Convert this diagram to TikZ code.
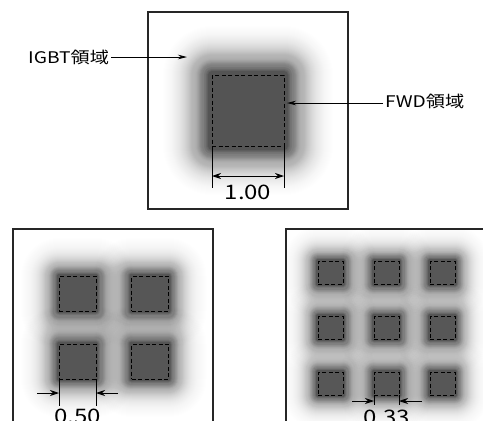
\documentclass[tikz,border=0pt]{standalone}
\usepackage{fontspec}
\newfontfamily\jpfont[FakeStretch=1.2]{Noto Sans CJK JP}
\usetikzlibrary{arrows.meta,calc}
% soft glow round one square: centre x, centre y, half width, half height,
% core margin, decay length, glow length
\newcommand\glowsq[7]{%
  \pgfmathtruncatemacro\glowLm{#7-1}%
  \foreach \k in {0,...,\glowLm}{%
    \pgfmathsetmacro\glowop{1-(1-0.67*exp(-\k/#6)*(1-(\k/#7)*(\k/#7)))/(1-0.67*exp(-(\k+1)/#6)*(1-((\k+1)/#7)*((\k+1)/#7)))}%
    \pgfmathsetmacro\glowr{#5+\k}%
    \fill[black,fill opacity=\glowop,rounded corners=\glowr pt]
      (#1-#3-\glowr,#2-#4-\glowr) rectangle (#1+#3+\glowr,#2+#4+\glowr);
  }%
}
\begin{document}
\begin{tikzpicture}[x=1pt,y=-1pt,
  frame/.style={draw=black!85,line width=1.1pt},
  sqbox/.style={draw=black,dash pattern=on 4pt off 2.5pt,line width=1pt,inner sep=0pt,outer sep=0pt},
  dimline/.style={draw=black,line width=0.9pt},
  dimtip/.style={-{Stealth[length=9pt,width=6pt]}},
  leader/.style={draw=black,line width=0.8pt,-{Stealth[length=9pt,width=4.5pt]}},
  lbl/.style={font=\jpfont\fontsize{16}{18}\selectfont,inner sep=2pt},
  dimtext/.style={font=\jpfont\fontsize{20}{22}\selectfont,inner sep=0pt}
]
\clip (0,0) rectangle (483,421);

% ---------- top panel ----------
\glowsq{248}{110.5}{36}{35.5}{4}{20}{46}
\draw[frame] (148,12) rectangle (348,209);
\node[sqbox,minimum width=72pt,minimum height=71pt] (A) at (248,110.5) {};

% dimension 1.00
\draw[dimline] (A.south west) -- ++(0,42) coordinate (A1);
\draw[dimline] (A.south east) -- ++(0,42) coordinate (A2);
\draw[dimline,{Stealth[length=9pt,width=6pt]}-{Stealth[length=9pt,width=6pt]}]
  ($(A.south west)+(0,30)$) coordinate (A3) -- ($(A.south east)+(0,30)$) coordinate (A4);
\node[dimtext] (d1) at (248,192.5) {1.00};

% labels
\node[lbl,anchor=west] (igbt) at (26,57) {IGBT領域};
\coordinate (igbtTip) at (187,57);
\draw[leader] (igbt.east |- igbtTip) -- (igbtTip);
\node[lbl,anchor=west] (fwd) at (383,101) {FWD領域};
\coordinate (fwdTip) at (287,103);
\draw[leader] (fwd.west |- fwdTip) -- (fwdTip);

% ---------- bottom-left panel ----------
\begin{scope}
\clip (13,229) rectangle (213,440);
\foreach \cx/\cy in {77.5/293.5,150/293.5,77.5/361.5,150/361.5}{
  \glowsq{\cx}{\cy}{18.5}{17.5}{2}{12}{44}
}
\end{scope}
\draw[frame] (13,229) rectangle (213,440);
\node[sqbox,minimum width=37pt,minimum height=35pt] (B1) at (77.5,293.5) {};
\node[sqbox,minimum width=37pt,minimum height=35pt] (B2) at (150,293.5) {};
\node[sqbox,minimum width=37pt,minimum height=35pt] (B3) at (77.5,361.5) {};
\node[sqbox,minimum width=37pt,minimum height=35pt] (B4) at (150,361.5) {};
\draw[dimline] (B3.south west) -- ++(0,27) coordinate (B5);
\draw[dimline] (B3.south east) -- ++(0,27) coordinate (B6);
\draw[dimline,dimtip] ($(B3.south west)+(-22,14)$) coordinate (B7) -- ($(B3.south west)+(0,14)$) coordinate (B8);
\draw[dimline,dimtip] ($(B3.south east)+(22,14)$) coordinate (B9) -- ($(B3.south east)+(0,14)$) coordinate (B10);
\node[dimtext] (d2) at (77.5,416.5) {0.50};

% ---------- bottom-right panel ----------
\begin{scope}
\clip (286,229) rectangle (490,440);
\foreach \cx in {330.5,386.5,442.5}{
  \foreach \cy in {272.5,327.5,383.5}{
    \glowsq{\cx}{\cy}{12.5}{11.5}{2}{10}{38}
  }
}
\end{scope}
\draw[frame] (286,229) rectangle (490,440);
\node[sqbox,minimum width=25pt,minimum height=23pt] (C11) at (330.5,272.5) {};
\node[sqbox,minimum width=25pt,minimum height=23pt] (C12) at (386.5,272.5) {};
\node[sqbox,minimum width=25pt,minimum height=23pt] (C13) at (442.5,272.5) {};
\node[sqbox,minimum width=25pt,minimum height=23pt] (C21) at (330.5,327.5) {};
\node[sqbox,minimum width=25pt,minimum height=23pt] (C22) at (386.5,327.5) {};
\node[sqbox,minimum width=25pt,minimum height=23pt] (C23) at (442.5,327.5) {};
\node[sqbox,minimum width=25pt,minimum height=23pt] (C31) at (330.5,383.5) {};
\node[sqbox,minimum width=25pt,minimum height=23pt] (C32) at (386.5,383.5) {};
\node[sqbox,minimum width=25pt,minimum height=23pt] (C33) at (442.5,383.5) {};
\draw[dimline] (C32.south west) -- ++(0,10) coordinate (C4);
\draw[dimline] (C32.south east) -- ++(0,10) coordinate (C5);
\draw[dimline,dimtip] ($(C32.south west)+(-22,6)$) coordinate (C6) -- ($(C32.south west)+(0,6)$) coordinate (C7);
\draw[dimline,dimtip] ($(C32.south east)+(23,6)$) coordinate (C8) -- ($(C32.south east)+(0,6)$) coordinate (C9);
\node[dimtext] (d3) at (386.5,417.5) {0.33};
\end{tikzpicture}
\end{document}
